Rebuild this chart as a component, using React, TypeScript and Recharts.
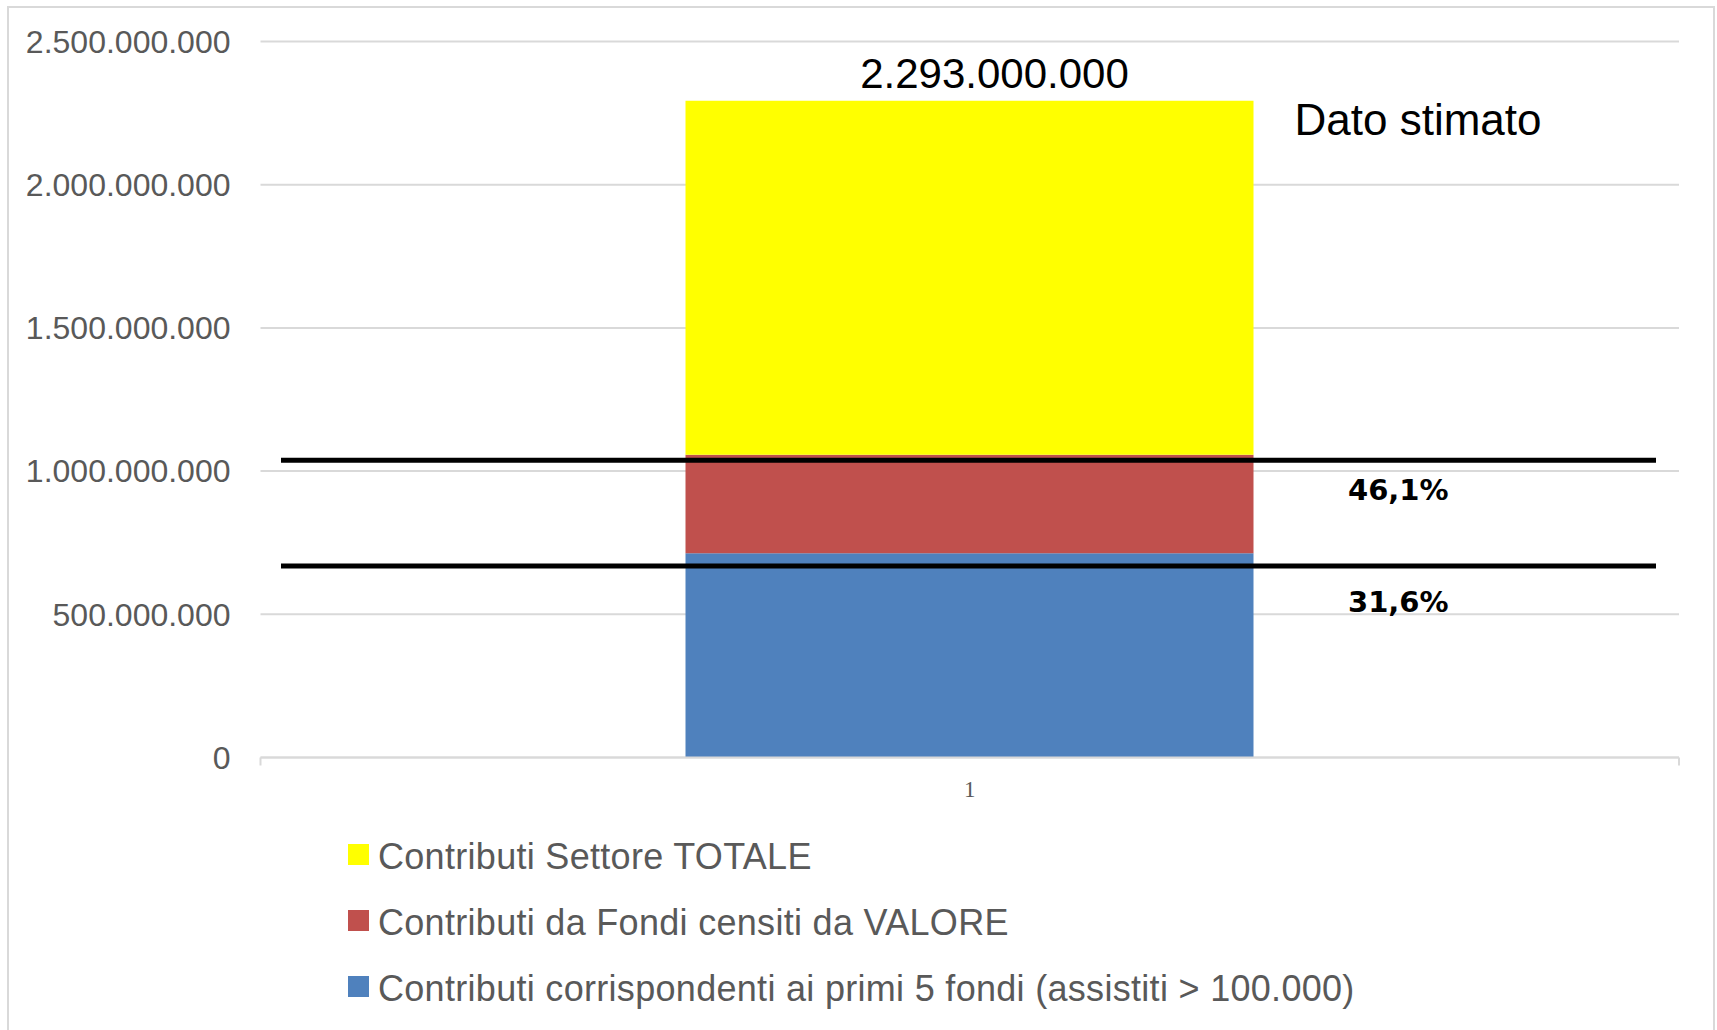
import React from "react";
import {
  BarChart,
  Bar,
  XAxis,
  YAxis,
  CartesianGrid,
  ReferenceLine,
  LabelList,
  Legend,
} from "recharts";

// valori (euro)
const categories = ["1"];
const primiCinque = [713000000]; // Contributi corrispondenti ai primi 5 fondi
const fondiValore = [344000000]; // Contributi da Fondi censiti da VALORE
const settoreResto = [1236000000]; // resto fino al totale del settore
const yTicks = [0, 500000000, 1000000000, 1500000000, 2000000000, 2500000000];

// linee nere con la quota sul totale
const quotaValues = [1038000000, 669000000];
const quotaLabels = ["46,1%", "31,6%"];

const legendNames = [
  "Contributi Settore TOTALE",
  "Contributi da Fondi censiti da VALORE",
  "Contributi corrispondenti ai primi 5 fondi (assistiti > 100.000)",
];
const legendColors = ["#FFFF00", "#C0504D", "#4F81BD"];

const data = categories.map((name, i) => ({
  name,
  primi: primiCinque[i],
  valore: fondiValore[i],
  settore: settoreResto[i],
}));

const fmt = (v: number) => String(v).replace(/\B(?=(\d{3})+(?!\d))/g, ".");

const SANS = "'Liberation Sans', Arial, sans-serif";
const PLOT_W = 1418.5;

const TotalLabel = (props: any) => {
  const { x, y, width, index } = props;
  const total = primiCinque[index] + fondiValore[index] + settoreResto[index];
  return (
    <g>
      <text
        x={x + width / 2 + 25}
        y={y - 13}
        textAnchor="middle"
        fontSize={42}
        fontFamily={SANS}
        fill="#000"
      >
        {fmt(total)}
      </text>
      <text x={x + width + 41} y={y + 34} fontSize={44} fontFamily={SANS} fill="#000">
        Dato stimato
      </text>
    </g>
  );
};

const labelDy = [40, 46];

const makeQuotaLabel = (i: number) => (props: any) => {
  const vb = props.viewBox || {};
  return (
    <text
      x={vb.x + 1087.5}
      y={vb.y + labelDy[i]}
      fontSize={29}
      fontWeight="bold"
      fontFamily="'DejaVu Sans', Verdana, sans-serif"
      fill="#000"
    >
      {quotaLabels[i]}
    </text>
  );
};

// etichetta "1" più i trattini ai bordi della categoria
const CategoryTick = (props: any) => {
  const { x, y, payload } = props;
  const half = (Number(props.width) || PLOT_W) / 2;
  const axisY = y - 23;
  return (
    <g>
      <line x1={x - half} x2={x - half} y1={axisY} y2={axisY + 8} stroke="#d9d9d9" strokeWidth={2} />
      <line x1={x + half} x2={x + half} y1={axisY} y2={axisY + 8} stroke="#d9d9d9" strokeWidth={2} />
      <text
        x={x}
        y={y + 16}
        textAnchor="middle"
        fontSize={23}
        fill="#595959"
        fontFamily="'Liberation Serif', serif"
      >
        {payload.value}
      </text>
    </g>
  );
};

const renderLegend = () => (
  <svg width={1150} height={200}>
    {legendNames.map((name, i) => (
      <g key={name}>
        <rect x={0} y={24 + i * 66} width={21} height={21} fill={legendColors[i]} />
        <text
          x={30}
          y={49 + i * 66}
          fontSize={36}
          letterSpacing={0.3}
          fontFamily={SANS}
          fill="#595959"
        >
          {name}
        </text>
      </g>
    ))}
  </svg>
);

export default function App() {
  return (
    <div
      style={{
        position: "absolute",
        left: 0,
        top: 0,
        width: 1717,
        height: 1030,
        overflow: "hidden",
        background: "#fff",
      }}
    >
      <div
        style={{
          position: "absolute",
          left: 7,
          top: 6,
          width: 1704,
          height: 1040,
          border: "2px solid #d9d9d9",
        }}
      />
      <div style={{ position: "absolute", left: 0, top: 0 }}>
        <BarChart
          width={1717}
          height={1030}
          data={data}
          margin={{ top: 41.5, right: 38, bottom: 232.5, left: 0 }}
        >
          <CartesianGrid vertical={false} stroke="#d9d9d9" strokeWidth={2} />
          <XAxis
            dataKey="name"
            height={40}
            axisLine={{ stroke: "#d9d9d9", strokeWidth: 2 }}
            tickLine={false}
            tickSize={0}
            tickMargin={23}
            tick={<CategoryTick />}
          />
          <YAxis
            width={260.5}
            domain={[0, 2500000000]}
            ticks={yTicks}
            tickFormatter={fmt}
            axisLine={false}
            tickLine={false}
            tickSize={0}
            tickMargin={30}
            tick={{ fontSize: 32, fill: "#595959", fontFamily: SANS }}
          />
          <Bar dataKey="primi" stackId="a" fill="#4F81BD" barSize={568} isAnimationActive={false} />
          <Bar dataKey="valore" stackId="a" fill="#C0504D" barSize={568} isAnimationActive={false} />
          <Bar dataKey="settore" stackId="a" fill="#FFFF00" barSize={568} isAnimationActive={false}>
            <LabelList dataKey="settore" content={TotalLabel} />
          </Bar>
          {quotaValues.map((v, i) => (
            <ReferenceLine
              key={i}
              y={v}
              stroke="#000"
              strokeWidth={5}
              strokeDasharray="0 20.5 1375 100"
              label={makeQuotaLabel(i)}
            />
          ))}
          <Legend
            layout="vertical"
            align="center"
            verticalAlign="middle"
            wrapperStyle={{ position: "absolute", left: 348, top: 820, width: 1150, height: 200 }}
            content={renderLegend}
          />
        </BarChart>
      </div>
    </div>
  );
}
